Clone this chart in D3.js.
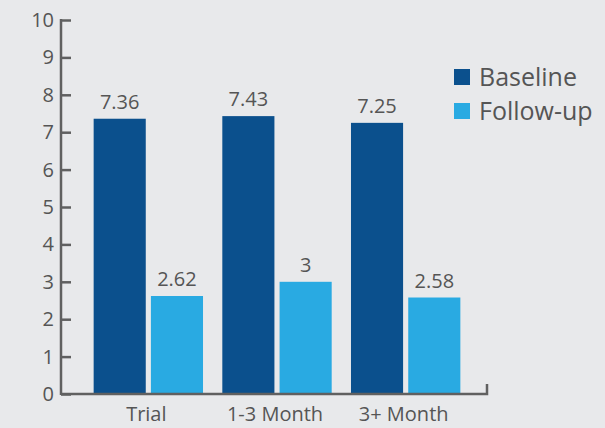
<!DOCTYPE html>
<html>
<head>
<meta charset="utf-8">
<script src="https://cdn.jsdelivr.net/npm/d3@7"></script>
<style>
  body { margin: 0; background: #e8e9eb; }
  svg { display: block; font-family: "Open Sans", sans-serif; }
</style>
</head>
<body>
<svg class="bar-chart" width="605" height="428"></svg>
<script>
const CHART_WIDTH = 605;
const CHART_HEIGHT = 428;
const MARGIN = { left: 61, top: 20, bottom: 34, right: 118 };

const categories = ['Trial', '1-3 Month', '3+ Month'];
const seriesNames = ['Baseline', 'Follow-up'];
const baseline = [7.36, 7.43, 7.25];
const followUp = [2.62, 3, 2.58];
const yTicks = [0, 1, 2, 3, 4, 5, 6, 7, 8, 9, 10];

const colors = { 'Baseline': '#0b508d', 'Follow-up': '#29aae2' };
const AXIS_COLOR = '#606060';
const TEXT_COLOR = '#555555';

const data = categories.map((c, i) => ({
  cat: c,
  values: [
    { key: 'Baseline', value: baseline[i] },
    { key: 'Follow-up', value: followUp[i] }
  ]
}));

const svg = d3.select('.bar-chart');

const yScale = d3.scaleLinear()
  .domain([0, 10])
  .range([CHART_HEIGHT - MARGIN.bottom, MARGIN.top]);

const xScale = d3.scaleBand()
  .domain(categories)
  .range([84, 470])
  .paddingInner(0.15)
  .paddingOuter(0.075);

const xSub = d3.scaleBand()
  .domain(seriesNames)
  .range([0, xScale.bandwidth()])
  .paddingInner(0.09);

// bars
const groups = svg.selectAll('.group')
  .data(data)
  .join('g')
  .attr('class', 'group')
  .attr('transform', d => `translate(${xScale(d.cat)},0)`);

groups.selectAll('rect')
  .data(d => d.values)
  .join('rect')
  .attr('x', d => xSub(d.key))
  .attr('width', xSub.bandwidth())
  .attr('y', d => yScale(d.value))
  .attr('height', d => yScale(0) - yScale(d.value))
  .attr('fill', d => colors[d.key]);

groups.selectAll('text')
  .data(d => d.values)
  .join('text')
  .attr('x', d => xSub(d.key) + xSub.bandwidth() / 2)
  .attr('y', d => yScale(d.value) - 10)
  .attr('text-anchor', 'middle')
  .attr('fill', TEXT_COLOR)
  .style('font-size', '20px')
  .text(d => d.value);

// y axis
const yAxis = svg.append('g')
  .attr('transform', `translate(${MARGIN.left},0)`)
  .call(d3.axisRight(yScale).tickValues(yTicks).tickSize(10).tickFormat(''));
yAxis.select('.domain').remove();
yAxis.selectAll('line').attr('stroke', AXIS_COLOR).attr('stroke-width', 2.5);

svg.append('line')
  .attr('x1', MARGIN.left).attr('x2', MARGIN.left)
  .attr('y1', yScale(10) - 1).attr('y2', yScale(0) + 1)
  .attr('stroke', AXIS_COLOR).attr('stroke-width', 2.5);

svg.append('g')
  .selectAll('text')
  .data(yTicks)
  .join('text')
  .attr('x', MARGIN.left - 7)
  .attr('y', d => yScale(d) + 7)
  .attr('text-anchor', 'end')
  .attr('fill', TEXT_COLOR)
  .style('font-size', '20px')
  .text(d => d);

// x axis
const xRight = 487;
svg.append('path')
  .attr('d', `M${MARGIN.left},${yScale(0)}H${xRight}V${yScale(0) - 10}`)
  .attr('fill', 'none')
  .attr('stroke', AXIS_COLOR)
  .attr('stroke-width', 2.5);

svg.append('g')
  .selectAll('text')
  .data(categories)
  .join('text')
  .attr('x', d => xScale(d) + xScale.bandwidth() / 2 - 2)
  .attr('y', 421)
  .attr('text-anchor', 'middle')
  .attr('fill', TEXT_COLOR)
  .style('font-size', '20px')
  .text(d => d);

// legend
const legend = svg.append('g')
  .selectAll('g')
  .data(seriesNames)
  .join('g')
  .attr('transform', (d, i) => `translate(454,${69 + i * 34})`);

legend.append('rect')
  .attr('width', 16).attr('height', 16)
  .attr('fill', d => colors[d]);

legend.append('text')
  .attr('x', 25)
  .attr('y', 17)
  .attr('fill', TEXT_COLOR)
  .style('font-size', '25px')
  .text(d => d);
</script>
</body>
</html>
